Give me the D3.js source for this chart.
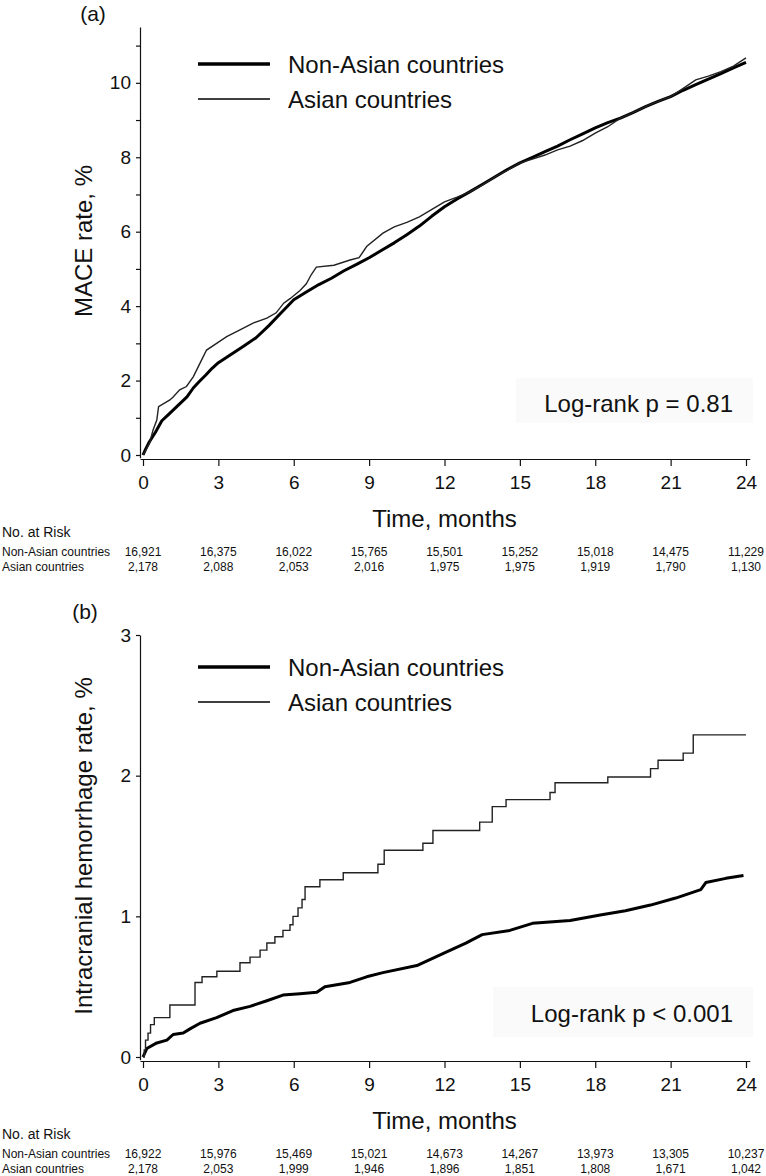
<!DOCTYPE html>
<html lang="en">
  <head>
    <meta charset="UTF-8" />
    <title>MACE and intracranial hemorrhage: Asian vs non-Asian countries</title>
    <script src="https://d3js.org/d3.v7.min.js"></script>
    <style>
      body { margin: 0; background: #fff; }
      svg text { font-family: "Liberation Sans", Arial, sans-serif; fill: #111; }
    </style>
  </head>
  <body>
    <div id="chart"></div>

    <script>
      // x axis ticks (months) and at-risk columns
      const timeTicks = [0, 3, 6, 9, 12, 15, 18, 21, 24];
      const seriesNames = ["Non-Asian countries", "Asian countries"];

      // panel (a): MACE rate, [month, %]
      const maceNonAsian = [
        [0, 0], [0.1, 0.15], [0.25, 0.35], [0.5, 0.62], [0.75, 0.92], [1, 1.08],
        [1.25, 1.24], [1.5, 1.4], [1.75, 1.56], [2, 1.8], [2.25, 1.98], [2.5, 2.15],
        [2.75, 2.33], [3, 2.48], [3.5, 2.7], [4, 2.92], [4.5, 3.15], [5, 3.47],
        [5.5, 3.82], [6, 4.17], [6.5, 4.38], [7, 4.58], [7.5, 4.75], [8, 4.95],
        [8.5, 5.12], [9, 5.3], [9.5, 5.5], [10, 5.7], [10.5, 5.92], [11, 6.15],
        [11.5, 6.42], [12, 6.67], [12.5, 6.88], [13, 7.07], [13.5, 7.27], [14, 7.47],
        [14.5, 7.67], [15, 7.85], [15.5, 8.0], [16, 8.15], [16.5, 8.3], [17, 8.47],
        [17.5, 8.63], [18, 8.79], [18.5, 8.93], [19, 9.05], [19.5, 9.2], [20, 9.36],
        [20.5, 9.5], [21, 9.63], [21.5, 9.8], [22, 9.95], [22.5, 10.1], [23, 10.25],
        [23.5, 10.4], [24, 10.55],
      ];
      const maceAsian = [
        [0, 0], [0.1, 0.12], [0.26, 0.32], [0.4, 0.67], [0.55, 0.94], [0.62, 1.3],
        [1.07, 1.48], [1.2, 1.56], [1.46, 1.75], [1.73, 1.84], [2, 2.1], [2.27, 2.47],
        [2.53, 2.82], [2.93, 3.0], [3.33, 3.18], [3.86, 3.36], [4.4, 3.55], [4.93, 3.68],
        [5.3, 3.82], [5.6, 4.08], [5.85, 4.2], [6.25, 4.42], [6.5, 4.6], [6.7, 4.85],
        [6.9, 5.05], [7.6, 5.1], [8.24, 5.24], [8.6, 5.3], [8.9, 5.6], [9.55, 5.96],
        [10, 6.13], [10.5, 6.25], [11, 6.4], [11.5, 6.6], [12, 6.8], [12.5, 6.93],
        [13, 7.07], [13.5, 7.25], [14, 7.47], [14.5, 7.65], [15, 7.85], [15.5, 7.95],
        [16, 8.06], [16.5, 8.2], [17, 8.3], [17.5, 8.45], [18, 8.65], [18.5, 8.82],
        [19, 9.05], [19.5, 9.2], [20, 9.36], [20.5, 9.5], [21, 9.63], [21.5, 9.85],
        [22, 10.08], [22.5, 10.18], [23, 10.3], [23.5, 10.45], [24, 10.67],
      ];
      const maceRiskNonAsian = ["16,921", "16,375", "16,022", "15,765", "15,501", "15,252", "15,018", "14,475", "11,229"];
      const maceRiskAsian = ["2,178", "2,088", "2,053", "2,016", "1,975", "1,975", "1,919", "1,790", "1,130"];

      // panel (b): intracranial hemorrhage rate, [month, %]
      const ichNonAsian = [
        [0, 0], [0.15, 0.06], [0.55, 0.1], [0.95, 0.12], [1.2, 0.16], [1.6, 0.17],
        [1.87, 0.2], [2.27, 0.24], [2.93, 0.28], [3.58, 0.33], [4.26, 0.36], [4.93, 0.4],
        [5.57, 0.44], [6.25, 0.45], [6.92, 0.46], [7.24, 0.5], [8.24, 0.53], [8.9, 0.57],
        [9.55, 0.6], [10.9, 0.65], [12, 0.74], [12.85, 0.81], [13.5, 0.87], [14.6, 0.9],
        [15.5, 0.95], [17, 0.97], [18.2, 1.01], [19.2, 1.04], [20.2, 1.08], [21.2, 1.13],
        [22.2, 1.19], [22.4, 1.24], [23.2, 1.27], [23.9, 1.29],
      ];
      const ichAsian = [
        [0, 0], [0.05, 0.05], [0.1, 0.12], [0.2, 0.17], [0.3, 0.23], [0.45, 0.28],
        [1.07, 0.37], [2.07, 0.53], [2.35, 0.57], [2.94, 0.61], [3.86, 0.67], [4.26, 0.71],
        [4.66, 0.76], [4.93, 0.81], [5.25, 0.855], [5.57, 0.9], [5.85, 0.94], [5.97, 1.0],
        [6.17, 1.06], [6.33, 1.12], [6.45, 1.21], [7.04, 1.26], [7.97, 1.31], [9.35, 1.37],
        [9.6, 1.47], [11.14, 1.52], [11.54, 1.61], [13.4, 1.67], [13.9, 1.78], [14.45, 1.83],
        [16.2, 1.88], [16.4, 1.95], [18.5, 1.99], [20.2, 2.05], [20.5, 2.11], [21.5, 2.16],
        [21.9, 2.29], [24, 2.29],
      ];
      const ichRiskNonAsian = ["16,922", "15,976", "15,469", "15,021", "14,673", "14,267", "13,973", "13,305", "10,237"];
      const ichRiskAsian = ["2,178", "2,053", "1,999", "1,946", "1,896", "1,851", "1,808", "1,671", "1,042"];

      const width = 766,
        height = 1176;

      const svg = d3
        .select("#chart")
        .append("svg")
        .attr("width", width)
        .attr("height", height);

      // shared x scale, y axis sits a little left of month 0
      const x = d3.scaleLinear().domain([0, 24]).range([143, 746]);
      const axisX = 140;

      const panels = [
        {
          label: "(a)", labelX: 93, labelY: 21,
          yTitle: "MACE rate, %", pText: "Log-rank p = 0.81",
          yMax: 11.5, y0: 455, yMaxPx: 27,
          yTicks: [0, 2, 4, 6, 8, 10], yMinor: [1, 3, 5, 7, 9, 11],
          legendY: 64, box: [516, 378, 753, 423], pBase: 412,
          nonAsian: maceNonAsian, asian: maceAsian,
          asianStep: false,
          risk: [maceRiskNonAsian, maceRiskAsian],
        },
        {
          label: "(b)", labelX: 85, labelY: 619,
          yTitle: "Intracranial hemorrhage rate, %", pText: "Log-rank p < 0.001",
          yMax: 3, y0: 1057, yMaxPx: 635,
          yTicks: [0, 1, 2, 3], yMinor: [],
          legendY: 667, box: [493, 987, 753, 1037], pBase: 1022,
          nonAsian: ichNonAsian, asian: ichAsian,
          asianStep: true,
          risk: [ichRiskNonAsian, ichRiskAsian],
        },
      ];

      panels.forEach(drawPanel);

      function drawPanel(p) {
        const y = d3.scaleLinear().domain([0, p.yMax]).range([p.y0, p.yMaxPx]);
        const g = svg.append("g");
        const xAxisY = p.y0 + 4;

        // panel letter
        g.append("text")
          .attr("x", p.labelX)
          .attr("y", p.labelY)
          .attr("text-anchor", "middle")
          .attr("font-size", 21)
          .text(p.label);

        // log-rank box (very faint background)
        g.append("rect")
          .attr("x", p.box[0])
          .attr("y", p.box[1])
          .attr("width", p.box[2] - p.box[0])
          .attr("height", p.box[3] - p.box[1])
          .attr("fill", "#fafafa");
        g.append("text")
          .attr("x", 733)
          .attr("y", p.pBase)
          .attr("text-anchor", "end")
          .attr("font-size", 24)
          .text(p.pText);

        // y axis, running a hair below zero
        const ya = y.copy().domain([-0.02 * p.yMax / 3, p.yMax]);
        ya.range([y(ya.domain()[0]), y(p.yMax)]);
        const yAxis = g
          .append("g")
          .attr("transform", `translate(${axisX},0)`)
          .call(d3.axisLeft(ya).tickValues(p.yTicks).tickFormat(d3.format("d")).tickSize(4).tickPadding(5).tickSizeOuter(0));
        yAxis.attr("font-size", 19);
        yAxis.selectAll("path, line").attr("stroke", "#111").attr("stroke-width", 1.2);

        if (p.yMinor.length) {
          const minor = g
            .append("g")
            .attr("transform", `translate(${axisX},0)`)
            .call(d3.axisLeft(ya).tickValues(p.yMinor).tickFormat("").tickSize(4).tickSizeOuter(0));
          minor.select(".domain").remove();
          minor.selectAll("line").attr("stroke", "#111").attr("stroke-width", 1.2);
        }

        // x axis, extended slightly to meet the y axis
        const xa = x.copy().domain([-0.12, 24.15]).range([x(-0.12), x(24.15)]);
        const xAxis = g
          .append("g")
          .attr("transform", `translate(0,${xAxisY})`)
          .call(d3.axisBottom(xa).tickValues(timeTicks).tickFormat(d3.format("d")).tickSize(7).tickPadding(10).tickSizeOuter(0));
        xAxis.attr("font-size", 19);
        xAxis.selectAll("path, line").attr("stroke", "#111").attr("stroke-width", 1.2);

        // axis titles
        g.append("text")
          .attr("x", x(12))
          .attr("y", p.y0 + 72)
          .attr("text-anchor", "middle")
          .attr("font-size", 24)
          .text("Time, months");

        g.append("text")
          .attr("transform", `translate(92,${(p.y0 + p.yMaxPx) / 2}) rotate(-90)`)
          .attr("text-anchor", "middle")
          .attr("font-size", 24)
          .text(p.yTitle);

        // curves: the big cohort reads as a near-smooth line, the small one as steps
        const line = d3
          .line()
          .x((d) => x(d[0]))
          .y((d) => y(d[1]));
        const stepLine = d3
          .line()
          .x((d) => x(d[0]))
          .y((d) => y(d[1]))
          .curve(d3.curveStepAfter);

        g.append("path")
          .datum(p.nonAsian)
          .attr("d", line)
          .attr("fill", "none")
          .attr("stroke", "#000")
          .attr("stroke-width", 3)
          .attr("stroke-linejoin", "round");

        g.append("path")
          .datum(p.asian)
          .attr("d", p.asianStep ? stepLine : line)
          .attr("fill", "none")
          .attr("stroke", "#222")
          .attr("stroke-width", 1.4);

        // legend
        const legend = g
          .selectAll(".legend")
          .data(seriesNames)
          .join("g")
          .attr("transform", (d, i) => `translate(0,${p.legendY + i * 35})`);
        legend
          .append("line")
          .attr("x1", 198)
          .attr("x2", 270)
          .attr("stroke", "#000")
          .attr("stroke-width", (d, i) => (i === 0 ? 3.5 : 1.4));
        legend
          .append("text")
          .attr("x", 288)
          .attr("y", 9)
          .attr("font-size", 24)
          .text((d) => d);

        // numbers at risk
        g.append("text")
          .attr("x", 2)
          .attr("y", p.y0 + 82)
          .attr("font-size", 14)
          .text("No. at Risk");

        p.risk.forEach((row, r) => {
          const rowY = p.y0 + 101 + r * 15;
          g.append("text")
            .attr("x", 2)
            .attr("y", rowY)
            .attr("font-size", 12)
            .text(seriesNames[r]);
          g.selectAll(null)
            .data(row)
            .join("text")
            .attr("x", (d, i) => x(timeTicks[i]))
            .attr("y", rowY)
            .attr("text-anchor", "middle")
            .attr("font-size", 12)
            .text((d) => d);
        });
      }
    </script>
  </body>
</html>
